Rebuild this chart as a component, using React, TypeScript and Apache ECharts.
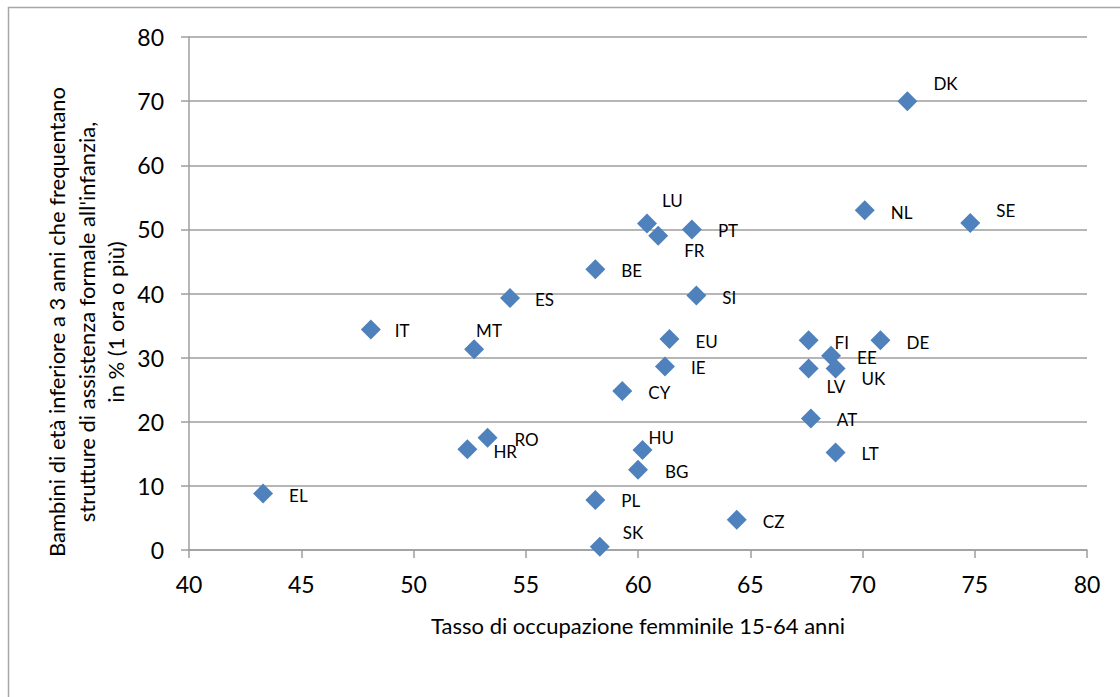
import React, { useEffect, useRef } from "react";
import * as echarts from "echarts";

const countries = ["DK","NL","SE","LU","FR","PT","BE","ES","SI","IT","MT","EU","FI","DE","EE","LV","UK","IE","CY","AT","RO","HR","HU","LT","BG","EL","PL","CZ","SK"];
const employmentRate = [72.0,70.1,74.8,60.4,60.9,62.4,58.1,54.3,62.6,48.1,52.7,61.4,67.6,70.8,68.6,67.6,68.8,61.2,59.3,67.7,53.3,52.4,60.2,68.8,60.0,43.3,58.1,64.4,58.3];
const childcareRate = [70.0,53.0,51.0,50.9,49.0,50.0,43.8,39.3,39.7,34.4,31.3,32.9,32.7,32.7,30.3,28.3,28.3,28.6,24.8,20.5,17.5,15.7,15.6,15.2,12.5,8.8,7.8,4.7,0.5];
// label offset from marker centre [dx to text start, dy of text centre]
const labelOffsets: [number, number][] = [[26,-18],[26,2],[26,-12],[15,-23],[26,15],[26,1],[26,1],[25,2],[26,2],[24,1],[2,-19],[26,2],[26,2],[26,2],[26,2],[18,18],[26,10],[26,1],[26,2],[26,1],[27,2],[26,2],[6,-12],[26,1],[27,2],[26,2],[26,1],[26,2],[23,-14]];

const xTicks = { min: 40, max: 80, interval: 5 };
const yTicks = { min: 0, max: 80, interval: 10 };
const xTitle = "Tasso di occupazione femminile 15-64 anni";
const yTitle = "Bambini di età inferiore a 3 anni che frequentano\nstrutture di assistenza formale all'infanzia,\nin % (1 ora o più)";

const FONT = "Lato, 'Open Sans', sans-serif";

export default function App() {
  const ref = useRef<HTMLDivElement>(null);
  useEffect(() => {
    document.body.style.margin = "0";
    const chart = echarts.init(ref.current!, null, { renderer: "svg" });
    const data = countries.map((c, i) => ({
      value: [employmentRate[i], childcareRate[i]],
      name: c,
      label: {
        show: true,
        position: "right",
        distance: 0,
        offset: [labelOffsets[i][0] - 10, labelOffsets[i][1]],
      },
    }));
    chart.setOption({
      animation: false,
      grid: { left: 189, right: 33, top: 37, bottom: 147 },
      graphic: [
        {
          type: "rect",
          shape: { x: 8.5, y: 7.5, width: 1200, height: 800 },
          style: { fill: "none", stroke: "#a6a6a6", lineWidth: 1.5 },
          silent: true,
        },
        {
          type: "text",
          x: 86,
          y: 322,
          rotation: Math.PI / 2,
          style: {
            text: yTitle,
            align: "center",
            verticalAlign: "middle",
            font: `22px ${FONT}`,
            lineHeight: 29.5,
            fill: "#000",
          },
        },
        {
          type: "text",
          x: 638,
          y: 625,
          style: {
            text: xTitle,
            align: "center",
            verticalAlign: "middle",
            font: `22px ${FONT}`,
            fill: "#000",
          },
        },
      ],
      xAxis: {
        type: "value",
        min: xTicks.min,
        max: xTicks.max,
        interval: xTicks.interval,
        splitLine: { show: false },
        axisLine: { show: true, onZero: false, lineStyle: { color: "#9e9e9e", width: 1.5 } },
        axisTick: { show: true, length: 8, lineStyle: { color: "#9e9e9e", width: 1.5 } },
        axisLabel: { fontFamily: FONT, fontSize: 23, color: "#000", margin: 22 },
      },
      yAxis: {
        type: "value",
        min: yTicks.min,
        max: yTicks.max,
        interval: yTicks.interval,
        splitLine: { show: true, lineStyle: { color: "#9e9e9e", width: 1.5 } },
        axisLine: { show: true, onZero: false, lineStyle: { color: "#9e9e9e", width: 1.5 } },
        axisTick: { show: true, length: 8, lineStyle: { color: "#9e9e9e", width: 1.5 } },
        axisLabel: { fontFamily: FONT, fontSize: 23, color: "#000", margin: 25 },
      },
      series: [
        {
          type: "scatter",
          symbol: "diamond",
          symbolSize: 20,
          itemStyle: { color: "#4F81BD", opacity: 1 },
          label: {
            show: true,
            formatter: "{b}",
            fontFamily: FONT,
            fontSize: 17,
            color: "#000",
            align: "left",
            verticalAlign: "middle",
          },
          data,
        },
      ],
    });
    return () => chart.dispose();
  }, []);
  return <div ref={ref} style={{ width: 1120, height: 697 }} />;
}
